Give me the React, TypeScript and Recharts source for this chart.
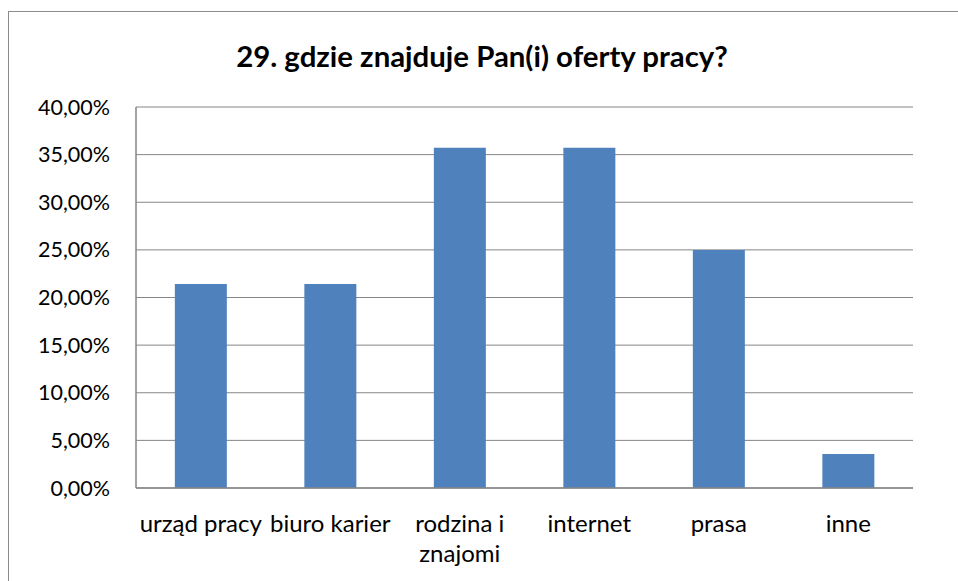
import { BarChart, Bar, XAxis, YAxis, CartesianGrid } from 'recharts';

const categories = ['urząd pracy', 'biuro karier', 'rodzina i znajomi', 'internet', 'prasa', 'inne'];
const shares = [0.2143, 0.2143, 0.3571, 0.3571, 0.25, 0.0357];
const yTicks = [0, 0.05, 0.1, 0.15, 0.2, 0.25, 0.3, 0.35, 0.4];

// category labels that Excel wrapped onto two lines
const labelLines: Record<string, string[]> = {
  'rodzina i znajomi': ['rodzina i', 'znajomi'],
};

const data = categories.map((name, i) => ({ name, value: shares[i] }));

const FONT = 'Lato, "Open Sans", sans-serif';
const GRID = '#868686';

const fmtPct = (v: number) => (v * 100).toFixed(2).replace('.', ',') + '%';

const CategoryTick = (props: any) => {
  const { x, y, payload } = props;
  const lines = labelLines[payload.value] || [payload.value];
  return (
    <text x={x} y={y + 36} textAnchor="middle" fill="#000" fontFamily={FONT} fontSize={24}>
      {lines.map((l, i) => (
        <tspan key={i} x={x} dy={i === 0 ? 0 : 30}>{l}</tspan>
      ))}
    </text>
  );
};

const ValueTick = (props: any) => {
  const { y, payload } = props;
  return (
    <text x={110} y={y + 7.5} textAnchor="end" fill="#000" fontFamily={FONT} fontSize={21.5}>
      {fmtPct(payload.value)}
    </text>
  );
};

export default function App() {
  return (
    <div style={{ position: 'absolute', left: 0, top: 0, width: 958, height: 581, overflow: 'hidden', background: '#fff' }}>
      <div style={{
        position: 'absolute', left: 8, top: 11, width: 980, height: 600,
        border: '1.5px solid #8c8c8c', boxSizing: 'border-box',
      }} />
      <svg width={958} height={100} style={{ position: 'absolute', left: 0, top: 0 }}>
        <text x={482} y={67} textAnchor="middle" fontFamily={FONT} fontWeight={700} fontSize={29.4} fill="#000">
          29. gdzie znajduje Pan(i) oferty pracy?
        </text>
      </svg>
      <div style={{ position: 'absolute', left: 0, top: 0 }}>
        <BarChart width={958} height={581} data={data} margin={{ top: 107, right: 45, bottom: 63, left: 0 }} barCategoryGap="30%">
          <CartesianGrid vertical={false} stroke={GRID} strokeWidth={1} />
          <XAxis dataKey="name" height={30} tick={<CategoryTick />} tickLine={false} axisLine={{ stroke: GRID, strokeWidth: 1.5 }} interval={0} />
          <YAxis width={136} domain={[0, 0.4]} ticks={yTicks} tick={<ValueTick />} tickLine={false} axisLine={{ stroke: GRID, strokeWidth: 1.5 }} />
          <Bar dataKey="value" fill="#4F81BD" isAnimationActive={false} />
        </BarChart>
      </div>
    </div>
  );
}
